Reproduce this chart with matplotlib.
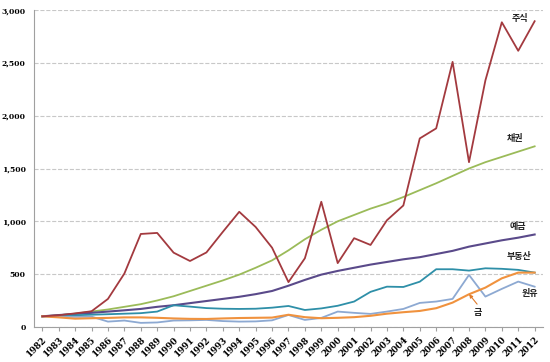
import matplotlib
matplotlib.use("Agg")
import matplotlib.pyplot as plt

plt.rcParams['font.family'] = ['Noto Sans CJK KR', 'DejaVu Sans']

years = list(range(1982, 2013))

stocks = [100, 110, 128, 148, 265, 505, 880, 890, 703, 624, 705, 900, 1090, 946, 750, 424,
          650, 1185, 604, 840, 776, 1010, 1150, 1785, 1880, 2510, 1560, 2335, 2885, 2615, 2895]
bonds = [100, 110, 125, 145, 165, 190, 215, 250, 290, 340, 390, 440, 495, 560, 630, 725,
         830, 920, 1000, 1060, 1120, 1170, 1230, 1295, 1360, 1430, 1500, 1560, 1610, 1660, 1710]
deposits = [100, 112, 122, 133, 145, 157, 170, 190, 205, 225, 245, 265, 285, 310, 340, 390,
            445, 495, 530, 560, 590, 615, 640, 660, 690, 720, 760, 790, 820, 845, 875]
realestate = [100, 105, 110, 115, 120, 125, 130, 145, 205, 192, 178, 172, 170, 172, 182, 198,
              160, 175, 200, 240, 332, 381, 378, 428, 546, 546, 533, 555, 550, 540, 514]
gold = [100, 90, 78, 82, 85, 90, 90, 86, 80, 76, 75, 80, 84, 86, 88, 115,
        92, 82, 86, 92, 105, 125, 139, 151, 177, 230, 309, 372, 460, 514, 514]
oil = [100, 96, 95, 97, 50, 60, 38, 42, 60, 62, 66, 55, 50, 52, 62, 113,
       66, 85, 145, 133, 123, 145, 170, 227, 240, 265, 492, 287, 360, 429, 381]

fig = plt.figure(figsize=(5.5, 3.62), dpi=100)
ax = fig.add_axes([0.062, 0.097, 0.925, 0.875])

x = list(range(len(years)))
ax.plot(x, bonds, color='#9BBB59', lw=1.3)
ax.plot(x, deposits, color='#5A4A8A', lw=1.5)
ax.plot(x, realestate, color='#2E8FA8', lw=1.3)
ax.plot(x, oil, color='#8DA9D2', lw=1.3)
ax.plot(x, gold, color='#F0923E', lw=1.5)
ax.plot(x, stocks, color='#A33A3F', lw=1.3)

ax.set_xlim(-0.5, 30.5)
ax.set_ylim(0, 3000)
ax.set_yticks(range(0, 3001, 500))
ax.set_yticklabels(['{:,}'.format(v) for v in range(0, 3001, 500)], fontsize=5.5,
                   fontweight='bold', family='DejaVu Serif')
ax.set_xticks(x)
ax.set_xticklabels([str(y) for y in years], rotation=45, fontsize=6.2, fontweight='bold',
                   family='DejaVu Serif', ha='right', rotation_mode='anchor')
ax.grid(axis='y', color='#C8C8C8', linestyle='--', linewidth=0.8)
ax.set_axisbelow(True)
for s in ['top', 'right']:
    ax.spines[s].set_visible(False)
ax.spines['left'].set_color('#A0A0A0')
ax.spines['bottom'].set_color('#A0A0A0')
ax.tick_params(axis='y', length=0, pad=6)
ax.tick_params(axis='x', length=3, color='#A0A0A0', pad=3)

kw = dict(fontsize=6.5, fontweight='bold', color='#222222')
ax.text(28.6, 2900, '주식', **kw)
ax.text(28.3, 1760, '채권', **kw)
ax.text(28.5, 930, '예금', **kw)
ax.text(28.3, 640, '부동산', **kw)
ax.text(29.2, 290, '원유', **kw)
ax.text(26.3, 110, '금', **kw)
ax.annotate('', xy=(25.9, 330), xytext=(26.6, 195),
            arrowprops=dict(arrowstyle='-|>', color='#E07B2A', lw=0.8, mutation_scale=5))

fig.savefig('out.png', dpi=100)
